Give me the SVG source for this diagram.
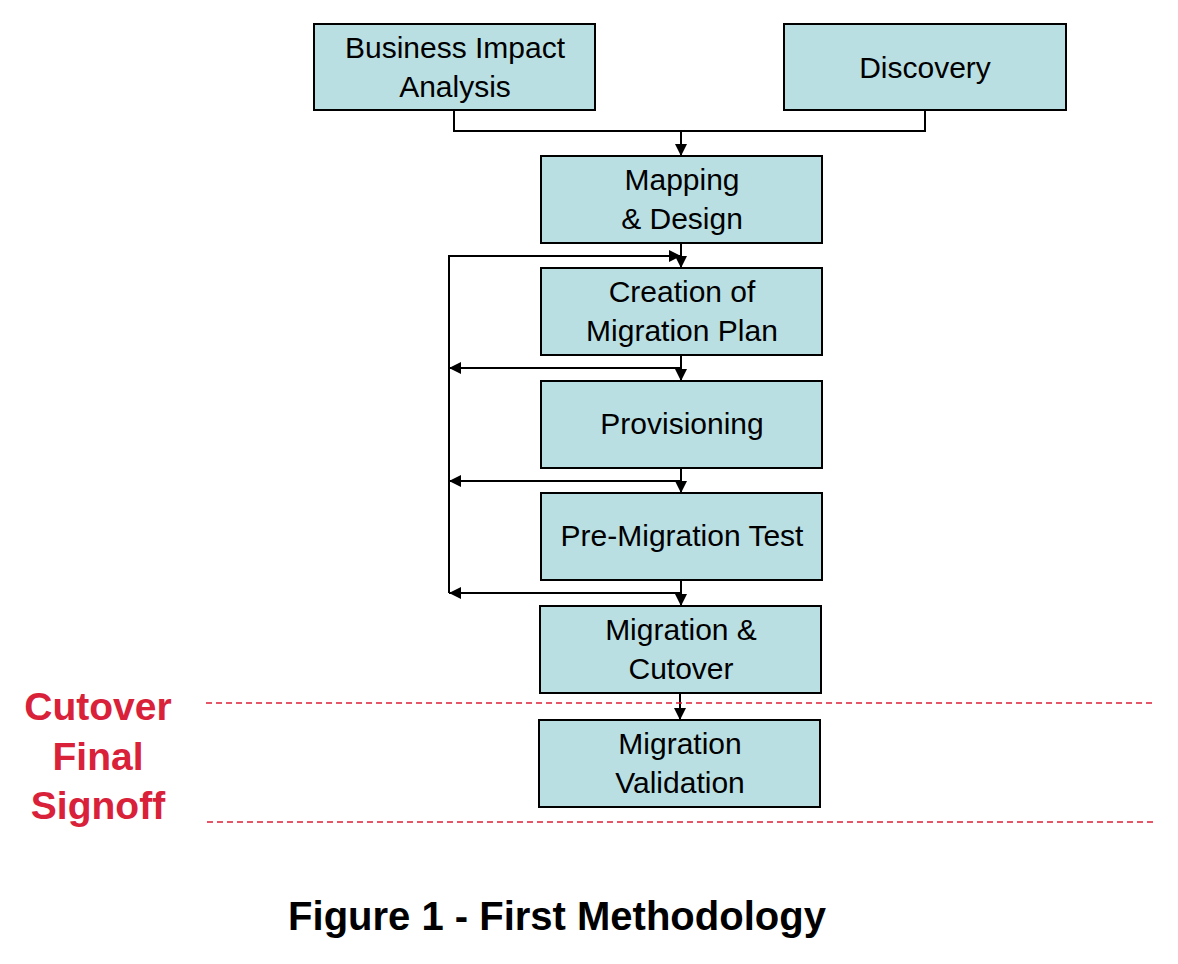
<svg xmlns="http://www.w3.org/2000/svg" width="1178" height="964" viewBox="0 0 1178 964">
<style>
.box{fill:#b9dfe3;stroke:#000;stroke-width:2}
.t{font-family:"Liberation Sans",Arial,sans-serif;font-size:30px;fill:#000;text-anchor:middle}
.red{font-family:"Liberation Sans",Arial,sans-serif;font-size:39px;font-weight:bold;fill:#d9213a;text-anchor:middle}
.ln{fill:none;stroke:#000;stroke-width:2}
.dash{fill:none;stroke:#dc2038;stroke-width:1.6;stroke-dasharray:6 4}
</style>
<defs>
<marker id="ah" viewBox="0 0 12 12" refX="12" refY="6" markerWidth="12" markerHeight="12" markerUnits="userSpaceOnUse" orient="auto">
<path d="M0,0 L12,6 L0,12 z" fill="#000"/>
</marker>
</defs>
<rect width="1178" height="964" fill="#fff"/>
<g id="connectors">
<path class="ln" d="M454,110 V131 H925 V110"/>
<path class="ln" d="M681,131 V156" marker-end="url(#ah)"/>
<path class="ln" d="M681,243 V268" marker-end="url(#ah)"/>
<path class="ln" d="M681,355 V381" marker-end="url(#ah)"/>
<path class="ln" d="M681,468 V493" marker-end="url(#ah)"/>
<path class="ln" d="M681,580 V606" marker-end="url(#ah)"/>
<path class="ln" d="M680,693 V720" marker-end="url(#ah)"/>
<path class="ln" d="M449,593 V256 H681" marker-end="url(#ah)"/>
<path class="ln" d="M681,368 H449" marker-end="url(#ah)"/>
<path class="ln" d="M681,481 H449" marker-end="url(#ah)"/>
<path class="ln" d="M681,593 H449" marker-end="url(#ah)"/>
</g>
<g id="bia"><rect class="box" x="314" y="24" width="281" height="86"/><text class="t" x="455" y="58">Business Impact</text><text class="t" x="455" y="97">Analysis</text></g>
<g id="discovery"><rect class="box" x="784" y="24" width="282" height="86"/><text class="t" x="925" y="78">Discovery</text></g>
<g id="mapping"><rect class="box" x="541" y="156" width="281" height="87"/><text class="t" x="682" y="190">Mapping</text><text class="t" x="682" y="229">&amp; Design</text></g>
<g id="creation"><rect class="box" x="541" y="268" width="281" height="87"/><text class="t" x="682" y="302">Creation of</text><text class="t" x="682" y="341">Migration Plan</text></g>
<g id="provisioning"><rect class="box" x="541" y="381" width="281" height="87"/><text class="t" x="682" y="434">Provisioning</text></g>
<g id="premig"><rect class="box" x="541" y="493" width="281" height="87"/><text class="t" x="682" y="546">Pre-Migration Test</text></g>
<g id="cutover"><rect class="box" x="540" y="606" width="281" height="87"/><text class="t" x="681" y="640">Migration &amp;</text><text class="t" x="681" y="679">Cutover</text></g>
<g id="validation"><rect class="box" x="539" y="720" width="281" height="87"/><text class="t" x="680" y="754">Migration</text><text class="t" x="680" y="793">Validation</text></g>
<g id="signoff">
<line class="dash" x1="206" y1="703" x2="1152" y2="703"/>
<line class="dash" x1="207" y1="822" x2="1153" y2="822"/>
<text class="red" x="98" y="720">Cutover</text>
<text class="red" x="98" y="770">Final</text>
<text class="red" x="98" y="819">Signoff</text>
</g>
<text x="557" y="930" font-family="Liberation Sans,Arial,sans-serif" font-size="40" font-weight="bold" text-anchor="middle" fill="#000">Figure 1 - First Methodology</text>
</svg>
